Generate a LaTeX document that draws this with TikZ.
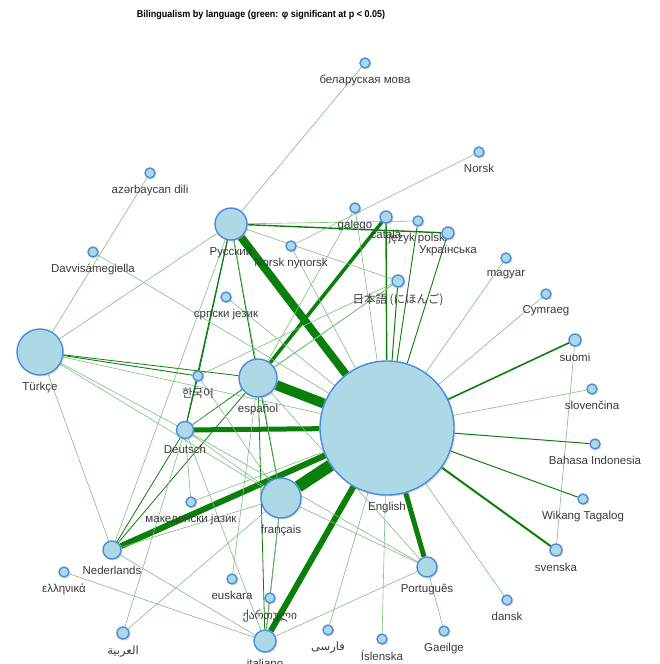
\documentclass[tikz,border=0pt]{standalone}
\usepackage{fontspec}
\setmainfont{Liberation Sans}
\newfontfamily\korfont{Noto Sans CJK KR}
\newfontfamily\jpfont{Noto Sans CJK JP}
\newfontfamily\geofont{DejaVu Sans}
\newfontfamily\arabicfont[Script=Arabic]{DejaVu Sans}
\TeXXeTstate=1
\usetikzlibrary{shadows,backgrounds}
\definecolor{nodefill}{HTML}{ADD8E6}
\definecolor{nodeline}{HTML}{4A8BE0}
\definecolor{litegreen}{HTML}{7DBF7D}
\definecolor{siggreen}{HTML}{0A800A}
\definecolor{labgray}{HTML}{3A3A3A}

\begin{document}
\begin{tikzpicture}[
    x=1pt, y=-1pt,
    lang/.style={circle, draw=nodeline, fill=nodefill, line width=1.4pt, inner sep=0pt,
        drop shadow={opacity=0.25, shadow xshift=1.5pt, shadow yshift=-1.5pt}},
    lab/.style={text=labgray, font=\fontsize{11.5}{12}\selectfont, inner sep=1pt, label distance=5pt},
    sig/.style={draw=siggreen},
    lite/.style={draw=litegreen, line width=0.6pt}
]
    \useasboundingbox (0,0) rectangle (660,664);

    % Title
    \node[font=\bfseries\fontsize{9}{10}\selectfont, yscale=1.1] (title) at (261,15)
        {Bilingualism by language (green: φ significant at p < 0.05)};

    % Big languages
    \node[lang, minimum size=134pt, label={[lab]below:English}] (eng) at (387,428) {};
    \node[lang, minimum size=46pt, label={[lab]below:Türkçe}] (tur) at (40,352) {};
    \node[lang, minimum size=38pt, label={[lab]below:español}] (spa) at (258,378) {};
    \node[lang, minimum size=40pt, label={[lab]below:français}] (fra) at (281,498) {};
    \node[lang, minimum size=32pt, label={[lab]below:Русский}] (rus) at (231,224) {};

    % Medium languages
    \node[lang, minimum size=17pt, label={[lab]below:Deutsch}] (deu) at (185,430) {};
    \node[lang, minimum size=18pt, label={[lab]below:Nederlands}] (nld) at (112,550) {};
    \node[lang, minimum size=20pt, label={[lab]below:Português}] (por) at (427,567) {};
    \node[lang, minimum size=22pt, label={[lab]below:italiano}] (ita) at (265,641) {};

    % Small languages
    \node[lang, minimum size=10pt, label={[lab]below:беларуская мова}] (bel) at (365,63) {};
    \node[lang, minimum size=10pt, label={[lab]below:Norsk}] (nor) at (479,152) {};
    \node[lang, minimum size=10pt, label={[lab]below:azərbaycan dili}] (aze) at (150,173) {};
    \node[lang, minimum size=10pt, label={[lab]below:Davvisámegiella}] (dav) at (93,252) {};
    \node[lang, minimum size=10pt, label={[lab]below:galego}] (gal) at (355,208) {};
    \node[lang, minimum size=12pt, label={[lab]below:català}] (cat) at (386,217) {};
    \node[lang, minimum size=10pt, label={[lab]below:język polski}] (pol) at (418,221) {};
    \node[lang, minimum size=12pt, label={[lab]below:Українська}] (ukr) at (448,233) {};
    \node[lang, minimum size=10pt, label={[lab]below:Norsk nynorsk}] (nyn) at (291,246) {};
    \node[lang, minimum size=10pt, label={[lab]below:magyar}] (mag) at (506,258) {};
    \node[lang, minimum size=12pt, label={[lab]below:{\jpfont 日本語 (にほんご)}}] (jpn) at (398,281) {};
    \node[lang, minimum size=10pt, label={[lab]below:Cymraeg}] (cym) at (546,294) {};
    \node[lang, minimum size=10pt, label={[lab]below:српски језик}] (srp) at (226,297) {};
    \node[lang, minimum size=12pt, label={[lab]below:suomi}] (suo) at (575,340) {};
    \node[lang, minimum size=10pt, label={[lab]below:{\korfont 한국어}}] (kor) at (198,376) {};
    \node[lang, minimum size=10pt, label={[lab]below:slovenčina}] (slo) at (592,389) {};
    \node[lang, minimum size=10pt, label={[lab]below:Bahasa Indonesia}] (ind) at (595,444) {};
    \node[lang, minimum size=10pt, label={[lab]below:Wikang Tagalog}] (tgl) at (583,499) {};
    \node[lang, minimum size=10pt, label={[lab]below:македонски јазик}] (mkd) at (191,502) {};
    \node[lang, minimum size=12pt, label={[lab]below:svenska}] (swe) at (556,550) {};
    \node[lang, minimum size=10pt, label={[lab]below:ελληνικά}] (ell) at (64,572) {};
    \node[lang, minimum size=10pt, label={[lab]below:euskara}] (eus) at (232,579) {};
    \node[lang, minimum size=10pt, label={[lab]below:{\geofont ქართული}}] (kat) at (270,598) {};
    \node[lang, minimum size=10pt, label={[lab]below:dansk}] (dan) at (507,600) {};
    \node[lang, minimum size=12pt, label={[lab]below:{\arabicfont\beginR العربية\endR}}] (ara) at (123,633) {};
    \node[lang, minimum size=10pt, label={[lab]below:{\arabicfont\beginR فارسی\endR}}] (fas) at (328,630) {};
    \node[lang, minimum size=10pt, label={[lab]below:Íslenska}] (isl) at (382,639) {};
    \node[lang, minimum size=10pt, label={[lab]below:Gaeilge}] (gle) at (444,631) {};

    \begin{scope}[on background layer]
    % Significant links
    \foreach \a/\b/\w in {fra/eng/12, spa/eng/10, rus/eng/8, nld/eng/6, ita/eng/6,
        deu/eng/5, por/eng/5, cat/spa/3.5, swe/eng/2, suo/eng/1.6, cat/eng/1.4,
        rus/ukr/1.4, ind/eng/1, tgl/eng/1, jpn/eng/1, ukr/eng/0.9, pol/eng/0.9,
        rus/spa/1, rus/deu/1, rus/kor/0.9, deu/kor/0.9, deu/spa/0.8, nld/deu/0.8,
        nld/spa/0.8, fra/ita/0.8, spa/ita/0.8, spa/fra/0.8, tur/kor/0.9, tur/spa/0.8}
        \draw[sig, line width=\w pt] (\a) -- (\b);

    % Other links
    \foreach \a/\b in {bel/rus, nor/nyn, aze/tur, dav/eng, tur/rus, tur/eng, tur/deu,
        tur/fra, tur/nld, mag/eng, cym/eng, slo/eng, dan/eng, isl/eng, fas/eng, gle/por,
        suo/swe, ell/ita, nld/ita, nld/fra, nld/rus, ara/deu, ara/fra, eus/spa, kat/fra,
        kat/ita, mkd/deu, mkd/eng, srp/eng, nyn/eng, rus/jpn, gal/spa, gal/eng, rus/pol,
        jpn/deu, jpn/kor, jpn/spa, por/ita, por/fra, por/deu, por/spa, deu/ita, deu/fra,
        kor/fra, rus/fra}
        \draw[lite] (\a) -- (\b);
    \end{scope}

\end{tikzpicture}
\end{document}
